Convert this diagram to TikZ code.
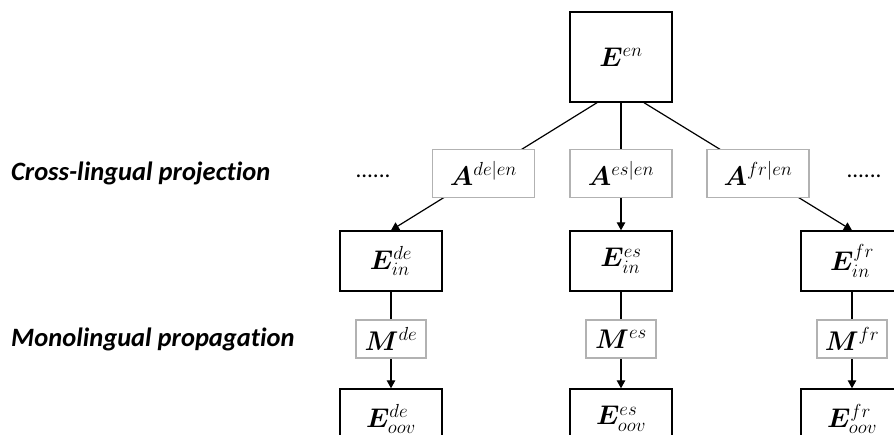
\documentclass[tikz,border=0pt]{standalone}
\usepackage{fix-cm}
\usepackage{amsmath,bm}
\usepackage{fontspec}
\setmainfont[Ligatures=NoCommon]{Carlito}
\usetikzlibrary{arrows.meta}

\begin{document}
\begin{tikzpicture}[x=1pt,y=1pt,
    emb/.style={draw=black,line width=1.4pt,fill=white,minimum width=102pt,minimum height=60pt,inner sep=0pt,font=\fontsize{27}{32}\selectfont},
    proj/.style={draw=black!30,line width=1.4pt,fill=white,minimum width=102pt,minimum height=48pt,inner sep=0pt,font=\fontsize{27}{32}\selectfont},
    prop/.style={proj,minimum width=70pt,minimum height=38pt},
    stagelabel/.style={anchor=west,inner sep=0pt,font=\fontsize{26.5}{30}\selectfont\bfseries\itshape},
    dots/.style={inner sep=0pt,font=\fontsize{23}{26}\selectfont},
    >={Triangle[length=8pt,width=8.5pt]},
    conn/.style={line width=1.2pt}]
    \useasboundingbox (0,0) rectangle (894,434);
    % embedding boxes
    \node[emb,minimum height=90pt] (Een) at (621,377) {$\bm{E}^{en}$};
    \node[emb] (Einde) at (391,173) {$\bm{E}^{de}_{in}$};
    \node[emb] (Eines) at (621,173) {$\bm{E}^{es}_{in}$};
    \node[emb] (Einfr) at (852,173) {$\bm{E}^{fr}_{in}$};
    \node[emb] (Eoovde) at (391,15) {$\bm{E}^{de}_{oov}$};
    \node[emb] (Eooves) at (621,15) {$\bm{E}^{es}_{oov}$};
    \node[emb] (Eoovfr) at (852,15) {$\bm{E}^{fr}_{oov}$};
    % connectors
    \draw[conn,->] ([xshift=-24pt]Een.south) -- (Einde.north);
    \draw[conn,->] (Een.south) -- (Eines.north);
    \draw[conn,->] ([xshift=23pt]Een.south) -- (Einfr.north);
    \draw[conn,->] (Einde.south) -- (Eoovde.north);
    \draw[conn,->] (Eines.south) -- (Eooves.north);
    \draw[conn,->] (Einfr.south) -- (Eoovfr.north);
    % mappings on top of the lines
    \node[proj] (Ade) at (483.5,260.5) {$\bm{A}^{de|en}$};
    \node[proj] (Aes) at (621,260.5) {$\bm{A}^{es|en}$};
    \node[proj] (Afr) at (758,260.5) {$\bm{A}^{fr|en}$};
    \node[prop] (Mde) at (391,95) {$\bm{M}^{de}$};
    \node[prop] (Mes) at (621,95) {$\bm{M}^{es}$};
    \node[prop] (Mfr) at (852,95) {$\bm{M}^{fr}$};
    \node[dots] (dotsl) at (373,258) {......};
    \node[dots] (dotsr) at (864,258) {......};
    % stage labels
    \node[stagelabel] (cross) at (11,260.5) {Cross-lingual projection};
    \node[stagelabel] (mono) at (11,95) {Monolingual propagation};
\end{tikzpicture}
\end{document}
